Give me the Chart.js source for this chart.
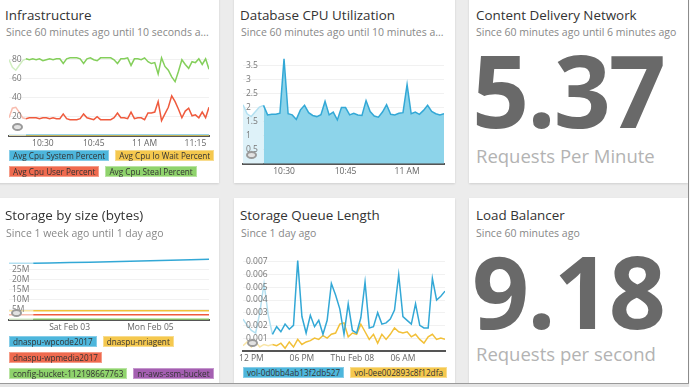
<!DOCTYPE html>
<html>
<head>
<meta charset="utf-8">
<script src="https://cdn.jsdelivr.net/npm/chart.js@4.4.1/dist/chart.umd.min.js"></script>
<style>
  html, body { margin: 0; padding: 0; }
  body { width: 690px; height: 387px; overflow: hidden; position: relative; background: #ececec; font-family: "Open Sans", sans-serif; }
  .card { position: absolute; background: #fff; box-shadow: 0 1px 2px rgba(0,0,0,0.12); }
  .title { position: absolute; font-size: 13.4px; line-height: 18px; color: #333; white-space: nowrap; }
  .sub { position: absolute; font-size: 10.5px; line-height: 14px; color: #888; white-space: nowrap; }
  .big { position: absolute; font-size: 100px; line-height: 100px; font-weight: 700; color: #696969; letter-spacing: -2px; }
  .unit { position: absolute; font-size: 18.5px; line-height: 18.5px; color: #b3b3b3; white-space: nowrap; }
  canvas { position: absolute; }
  .legend { position: absolute; display: flex; flex-wrap: wrap; column-gap: 6px; row-gap: 5px; }
  .legend span { font-size: 8.2px; line-height: 9px; padding: 0 3px; color: #333; border: 1px solid; white-space: nowrap; }
  .spin { position: absolute; width: 7px; height: 4px; border: 2px solid #9a9a9a; border-radius: 50%; background: #e2e2e2; z-index: 2; }
</style>
</head>
<body>

<div class="card" style="left:-4px; top:-4px; width:223px; height:187px"></div>
<div class="card" style="left:234px; top:-4px; width:221px; height:187px"></div>
<div class="card" style="left:469px; top:-4px; width:219px; height:187px"></div>
<div class="card" style="left:-4px; top:198px; width:223px; height:185px"></div>
<div class="card" style="left:234px; top:198px; width:221px; height:185px"></div>
<div class="card" style="left:469px; top:198px; width:219px; height:185px"></div>

<div class="title" style="left:5px; top:6px">Infrastructure</div>
<div class="sub" style="left:6px; top:25px">Since 60 minutes ago until 10 seconds a...</div>
<canvas id="infra" width="219" height="107" style="left:0; top:45px"></canvas>
<div class="spin" style="left:12px; top:123px"></div>
<div class="legend" id="infraLegend" style="left:9px; top:150px; width:212px"></div>

<div class="title" style="left:240px; top:6px">Database CPU Utilization</div>
<div class="sub" style="left:241px; top:25px">Since 60 minutes ago until 10 minutes a...</div>
<canvas id="dbcpu" width="221" height="135" style="left:234px; top:45px"></canvas>
<div class="spin" style="left:246px; top:151px"></div>

<div class="title" style="left:476px; top:6px">Content Delivery Network</div>
<div class="sub" style="left:476px; top:25px">Since 60 minutes ago until 6 minutes ago</div>
<div class="big" id="cdnValue" style="left:472px; top:39px"></div>
<div class="unit" style="left:476px; top:147px">Requests Per Minute</div>

<div class="title" style="left:5px; top:206px">Storage by size (bytes)</div>
<div class="sub" style="left:6px; top:226px">Since 1 week ago until 1 day ago</div>
<canvas id="storage" width="219" height="86" style="left:0; top:250px"></canvas>
<div class="spin" style="left:11px; top:309px"></div>
<div class="legend" id="storageLegend" style="left:9px; top:336px; width:210px"></div>

<div class="title" style="left:240px; top:206px">Storage Queue Length</div>
<div class="sub" style="left:241px; top:226px">Since 1 day ago</div>
<canvas id="queue" width="221" height="117" style="left:234px; top:250px"></canvas>
<div class="spin" style="left:247px; top:339px"></div>
<div class="legend" id="queueLegend" style="left:243px; top:367px; width:212px"></div>

<div class="title" style="left:476px; top:206px">Load Balancer</div>
<div class="sub" style="left:476px; top:226px">Since 60 minutes ago</div>
<div class="big" id="lbValue" style="left:472px; top:240px"></div>
<div class="unit" style="left:476px; top:345px">Requests per second</div>

<div style="position:absolute; left:688px; top:0; width:1px; height:387px; background:#8c8c8c"></div>
<div style="position:absolute; left:689px; top:0; width:1px; height:387px; background:#fafafa"></div>
<div style="position:absolute; left:0; top:383px; width:689px; height:1px; background:#9a9a9a"></div>
<div style="position:absolute; left:0; top:384px; width:689px; height:3px; background:#e4e4e4"></div>

<script>
// Infrastructure (minutes after 10:00)
const infraMinutes = [20, 21, 22, 23, 24, 25, 26, 27, 28, 29, 30, 31, 32, 33, 34, 35, 36, 37, 38, 39,
  40, 41, 42, 43, 44, 45, 46, 47, 48, 49, 50, 51, 52, 53, 54, 55, 56, 57, 58, 59,
  60, 61, 62, 63, 64, 65, 66, 67, 68, 69, 70, 71, 72, 73, 74, 75, 76, 77, 78, 79];
const infraSystem = [0.6, 0.6, 0.6, 0.6, 0.6, 0.6, 0.6, 0.6, 0.6, 0.6, 0.6, 0.6, 0.6, 0.6, 0.6, 0.6, 0.6, 0.6, 0.6, 0.6,
  0.6, 0.6, 0.6, 0.6, 0.6, 0.6, 0.6, 0.6, 0.6, 0.6, 0.6, 0.6, 0.6, 0.6, 0.6, 0.6, 0.6, 0.6, 0.6, 0.6,
  0.6, 0.6, 0.6, 0.6, 0.6, 0.6, 0.6, 0.6, 0.6, 0.6, 0.6, 0.6, 0.6, 0.6, 0.6, 0.6, 0.6, 0.6, 0.6, 0.6];
const infraIoWait = [0.1, 0.1, 0.1, 0.1, 0.1, 0.1, 0.1, 0.1, 0.1, 0.1, 0.1, 0.1, 0.1, 0.1, 0.1, 0.1, 0.1, 0.1, 0.1, 0.1,
  0.1, 0.1, 0.1, 0.1, 0.1, 0.1, 0.1, 0.1, 0.1, 0.1, 0.1, 0.1, 0.1, 0.1, 0.1, 0.1, 0.1, 0.1, 0.1, 0.1,
  0.1, 0.1, 0.1, 0.1, 0.1, 0.1, 0.1, 0.1, 0.1, 0.1, 0.1, 0.1, 0.1, 0.1, 0.1, 0.1, 0.1, 0.1, 0.1, 0.1];
const infraUser = [19, 29, 30, 25, 19, 18, 19, 19, 19, 18, 19, 19, 18, 19, 18, 18, 23, 18, 17, 17,
  17, 18, 23, 19, 18, 17, 20, 17, 17, 17, 17, 19, 24, 19, 19, 18, 25, 18, 19, 19,
  17, 24, 24, 25, 36, 16, 23, 30, 42, 36, 28, 19, 26, 29, 21, 22, 19, 25, 19, 30];
const infraSteal = [80, 72, 69, 74, 79, 81, 80, 81, 80, 81, 79, 80, 81, 80, 81, 81, 76, 81, 82, 82,
  82, 81, 76, 81, 82, 80, 79, 82, 82, 82, 82, 80, 76, 81, 81, 82, 74, 81, 81, 80,
  82, 78, 76, 77, 65, 82, 73, 69, 62, 57, 68, 80, 75, 71, 78, 77, 81, 75, 81, 70];
const infraXTicks = [30, 45, 60, 75];
const infraXLabels = ['10:30', '10:45', '11 AM', '11:15'];
const infraYTicks = [20, 40, 60, 80];

// Database CPU Utilization (minutes after 10:00)
const dbMinutes = [20, 21, 22, 23, 24, 25, 26, 27, 28, 29, 30, 31, 32, 33, 34, 35, 36, 37, 38, 39,
  40, 41, 42, 43, 44, 45, 46, 47, 48, 49, 50, 51, 52, 53, 54, 55, 56, 57, 58, 59,
  60, 61, 62, 63, 64, 65, 66, 67, 68, 69];
const dbCpu = [2.1, 1.78, 1.68, 1.85, 2.02, 2.08, 1.74, 1.76, 1.76, 1.8, 3.74, 1.78, 1.74, 1.58, 1.92, 2.08, 1.82, 1.72, 1.68, 1.75,
  2.22, 1.74, 1.84, 1.56, 2.0, 2.0, 1.74, 1.8, 1.74, 1.72, 2.25, 1.86, 1.7, 1.66, 1.84, 2.1, 1.76, 1.74, 1.8, 1.82,
  2.82, 1.78, 1.84, 1.76, 1.9, 2.08, 1.86, 1.78, 1.74, 1.78];
const dbXTicks = [30, 45, 60];
const dbXLabels = ['10:30', '10:45', '11 AM'];
const dbYTicks = [0.5, 1, 1.5, 2, 2.5, 3, 3.5];

// Content Delivery Network / Load Balancer
const cdnValue = '5.37';
const lbValue = '9.18';

// Storage by size (days after Feb 01 00:00)
const storageDays = [0.5, 1.1, 1.5, 2, 2.5, 3, 3.5, 4, 4.5, 5, 5.45];
const wpcode2017 = [27.9e6, 27.9e6, 28.1e6, 28.3e6, 28.5e6, 28.7e6, 28.9e6, 29.2e6, 29.4e6, 29.7e6, 29.9e6];
const nriagent = [4.5e6, 4.5e6, 4.5e6, 4.5e6, 4.5e6, 4.5e6, 4.5e6, 4.5e6, 4.5e6, 4.5e6, 4.5e6];
const wpmedia2017 = [2.5e6, 2.5e6, 2.5e6, 2.5e6, 2.5e6, 2.5e6, 2.5e6, 2.5e6, 2.5e6, 2.5e6, 2.5e6];
const configBucket = [0.3e6, 0.3e6, 0.3e6, 0.3e6, 0.3e6, 0.3e6, 0.3e6, 0.3e6, 0.3e6, 0.3e6, 0.3e6];
const ssmBucket = [0.05e6, 0.05e6, 0.05e6, 0.05e6, 0.05e6, 0.05e6, 0.05e6, 0.05e6, 0.05e6, 0.05e6, 0.05e6];
const storageXTicks = [2, 4];
const storageXLabels = ['Sat Feb 03', 'Mon Feb 05'];
const storageYTicks = [5e6, 10e6, 15e6, 20e6, 25e6];

// Storage Queue Length (hours after Feb 07 00:00)
const queueHours = [11, 11.5, 12, 12.5, 13, 13.5, 14, 14.5, 15, 15.5, 16, 16.5, 17, 17.5, 18, 18.5, 19, 19.5, 20, 20.5,
  21, 21.5, 22, 22.5, 23, 23.5, 24, 24.5, 25, 25.5, 26, 26.5, 27, 27.5, 28, 28.5, 29, 29.5, 30, 30.5,
  31, 31.5, 32, 32.5, 33, 33.5, 34, 34.5, 35];
const vol527 = [0.0025, 0.002, 0.0016, 0.0014, 0.003, 0.0053, 0.0028, 0.0013, 0.0019, 0.0015, 0.0021, 0.0017, 0.002, 0.0071, 0.0027, 0.0014, 0.0028, 0.0019, 0.0024, 0.0013,
  0.0024, 0.0053, 0.0044, 0.0033, 0.0013, 0.0037, 0.0016, 0.0014, 0.0026, 0.0054, 0.0018, 0.0019, 0.003, 0.0021, 0.0022, 0.0025, 0.0032, 0.006, 0.0027, 0.0024,
  0.0021, 0.0037, 0.002, 0.0018, 0.0018, 0.0057, 0.004, 0.0043, 0.0047];
const vol2dfa = [0.0004, 0.0007, 0.0003, 0.0007, 0.0003, 0.0005, 0.0004, 0.0005, 0.0004, 0.0006, 0.0002, 0.0007, 0.0003, 0.0009, 0.0005, 0.0007, 0.0008, 0.001, 0.0009, 0.0012,
  0.001, 0.0013, 0.0014, 0.0021, 0.0022, 0.0011, 0.0014, 0.0013, 0.0021, 0.0015, 0.0009, 0.0013, 0.0006, 0.0013, 0.0009, 0.0013, 0.0018, 0.0015, 0.0014, 0.0015,
  0.0011, 0.0013, 0.0009, 0.0006, 0.0011, 0.0013, 0.0009, 0.001, 0.0009];
const queueXTicks = [12, 18, 24, 30];
const queueXLabels = ['12 PM', '06 PM', 'Thu Feb 08', '06 AM'];
const queueYTicks = [0.001, 0.002, 0.003, 0.004, 0.005, 0.006, 0.007];

const colors = {
  blue:   { line: '#33a8d6', faded: '#b3e0f1', box: '#4db6dc', edge: '#86cde8' },
  yellow: { line: '#f2c038', faded: '#f9e5a6', box: '#f5c84e', edge: '#f8dc8e' },
  red:    { line: '#ef5a3d', faded: '#f8bcae', box: '#ef6a4f', edge: '#f59c88' },
  green:  { line: '#84cf5b', faded: '#d0eec0', box: '#8fd36c', edge: '#b9e4a2' },
  purple: { line: '#9b59a8', faded: '#d7bedc', box: '#a45fb1', edge: '#c596cd' }
};

function series(label, xs, ys, color, fadeUntil) {
  const c = colors[color];
  return {
    label: label,
    data: xs.map((x, i) => ({ x: x, y: ys[i] })),
    borderColor: c.line,
    legendColor: color,
    segment: { borderColor: ctx => ctx.p0DataIndex < fadeUntil ? c.faded : c.line }
  };
}

function lineChart(id, datasets, cfg) {
  const tickFont = { family: 'Open Sans', size: 8.5 };
  return new Chart(document.getElementById(id), {
    type: 'line',
    data: { datasets: datasets },
    options: {
      responsive: false,
      animation: false,
      layout: { padding: cfg.pad },
      plugins: { legend: { display: false }, tooltip: { enabled: false } },
      elements: { point: { radius: 0 }, line: { borderWidth: 1.5, tension: 0 } },
      scales: {
        x: {
          type: 'linear', min: cfg.xMin, max: cfg.xMax,
          afterBuildTicks: s => { s.ticks = cfg.xTicks.map(v => ({ value: v })); },
          ticks: { callback: v => cfg.xLabels[cfg.xTicks.indexOf(v)], color: '#666', font: tickFont, padding: 3, maxRotation: 0, autoSkip: false },
          grid: { display: false, drawTicks: false },
          border: { color: '#555', width: 2 }
        },
        y: {
          min: 0, max: cfg.yMax,
          afterBuildTicks: s => { s.ticks = cfg.yTicks.map(v => ({ value: v })); },
          afterFit: s => { s.width = 0; },
          // labels sit on top of the data, grid lines under it
          ticks: { mirror: true, padding: 3, z: 1, callback: cfg.yFormat, color: '#777', font: tickFont },
          grid: { color: '#f1f1f1', drawTicks: false },
          border: { display: false }
        }
      }
    }
  });
}

function buildLegend(id, datasets) {
  const box = document.getElementById(id);
  datasets.forEach(ds => {
    const c = colors[ds.legendColor];
    const item = document.createElement('span');
    item.textContent = ds.label;
    item.style.background = c.box;
    item.style.borderColor = c.edge;
    box.appendChild(item);
  });
}

const infraChart = lineChart('infra', [
  series('Avg Cpu Steal Percent', infraMinutes, infraSteal, 'green', 5),
  series('Avg Cpu User Percent', infraMinutes, infraUser, 'red', 5),
  series('Avg Cpu Io Wait Percent', infraMinutes, infraIoWait, 'yellow', 5),
  series('Avg Cpu System Percent', infraMinutes, infraSystem, 'blue', 5)
], {
  pad: { left: 9, right: 10, top: 10, bottom: 0 },
  xMin: 20, xMax: 79, xTicks: infraXTicks, xLabels: infraXLabels,
  yMax: 85, yTicks: infraYTicks, yFormat: v => v
});
// legend lists the series in the opposite order of drawing
buildLegend('infraLegend', infraChart.data.datasets.slice().reverse());

const dbSeries = series('Database CPU', dbMinutes, dbCpu, 'blue', 5);
dbSeries.fill = 'origin';
dbSeries.backgroundColor = '#8dd4ea';
dbSeries.segment.backgroundColor = ctx => ctx.p0DataIndex < 5 ? '#def2f9' : '#8dd4ea';
lineChart('dbcpu', [dbSeries], {
  pad: { left: 9, right: 11, top: 12, bottom: 0 },
  xMin: 20, xMax: 69, xTicks: dbXTicks, xLabels: dbXLabels,
  yMax: 3.8, yTicks: dbYTicks, yFormat: v => v
});

const storageChart = lineChart('storage', [
  series('dnaspu-wpcode2017', storageDays, wpcode2017, 'blue', 1),
  series('dnaspu-nriagent', storageDays, nriagent, 'yellow', 1),
  series('dnaspu-wpmedia2017', storageDays, wpmedia2017, 'red', 1),
  series('config-bucket-112198667763', storageDays, configBucket, 'green', 1),
  series('nr-aws-ssm-bucket', storageDays, ssmBucket, 'purple', 1)
], {
  pad: { left: 9, right: 10, top: 7, bottom: 0 },
  xMin: 0.5, xMax: 5.45, xTicks: storageXTicks, xLabels: storageXLabels,
  yMax: 30.5e6, yTicks: storageYTicks, yFormat: v => (v / 1e6) + 'M'
});
buildLegend('storageLegend', storageChart.data.datasets);

const queueChart = lineChart('queue', [
  series('vol-0d0bb4ab13f2db527', queueHours, vol527, 'blue', 7),
  series('vol-0ee002893c8f12dfa', queueHours, vol2dfa, 'yellow', 7)
], {
  pad: { left: 9, right: 10, top: 6, bottom: 0 },
  xMin: 11, xMax: 35, xTicks: queueXTicks, xLabels: queueXLabels,
  yMax: 0.0073, yTicks: queueYTicks, yFormat: v => v.toFixed(3)
});
buildLegend('queueLegend', queueChart.data.datasets);

document.getElementById('cdnValue').textContent = cdnValue;
document.getElementById('lbValue').textContent = lbValue;
</script>
</body>
</html>
